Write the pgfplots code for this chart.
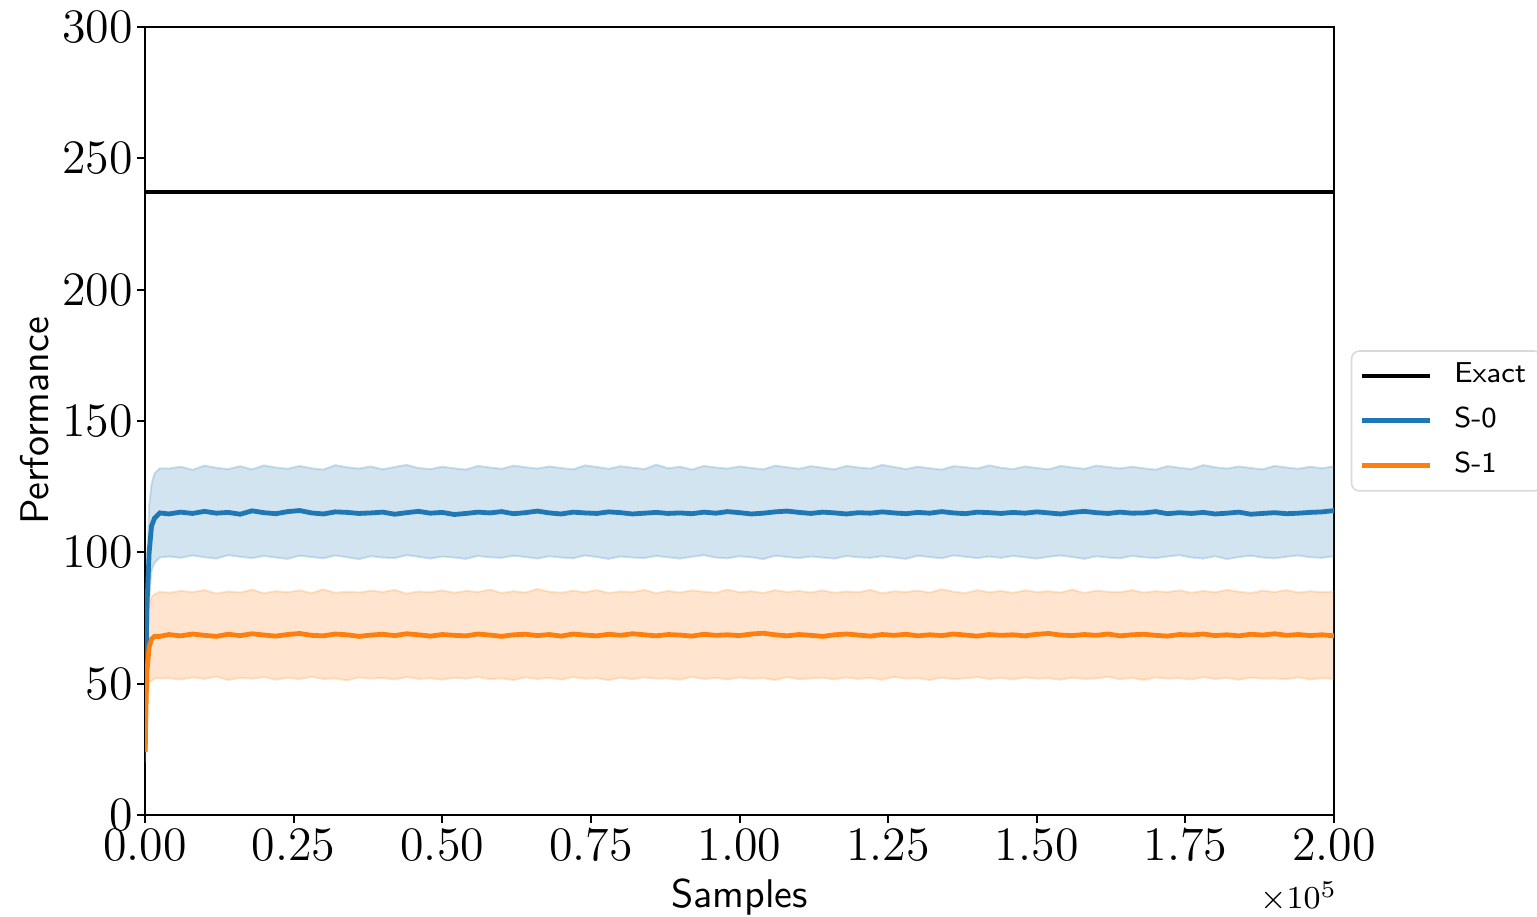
\documentclass[border=0pt]{standalone}
\usepackage{pgfplots}
\usepackage{pgfplotstable}
\usepgfplotslibrary{fillbetween}
\pgfplotsset{compat=1.18}

\definecolor{tabblue}{HTML}{1F77B4}
\definecolor{taborange}{HTML}{FF7F0E}

% x in units of 1e5 samples; m = mean, l/h = band low/high
\pgfplotstableread{
x m0 l0 h0 m1 l1 h1
0.000 24.0 20.0 28.0 24.0 20.0 28.0
0.003 78.0 64.0 92.0 54.0 45.0 64.0
0.007 100.0 83.0 118.0 64.0 51.0 79.0
0.011 110.0 93.0 126.0 67.0 51.0 83.0
0.016 113.0 96.0 130.0 68.0 52.0 84.0
0.025 115.0 98.0 132.0 68.0 52.0 85.0
0.04 114.6 98.4 131.9 68.7 52.1 84.6
0.06 115.3 97.9 132.6 68.2 51.6 85.3
0.08 114.8 98.8 131.4 68.9 52.4 84.9
0.10 115.6 98.1 133.0 68.4 51.8 85.6
0.12 114.9 97.6 132.2 68.0 52.7 84.3
0.14 115.2 98.9 131.7 68.8 51.4 85.1
0.16 114.5 98.3 132.8 68.3 52.2 84.7
0.18 115.8 97.8 131.6 69.0 51.9 85.8
0.20 115.1 98.6 133.1 68.5 52.5 84.4
0.22 114.7 98.0 132.3 68.1 51.5 85.2
0.24 115.5 97.5 131.8 68.7 52.3 84.8
0.26 115.9 98.7 132.9 69.1 51.7 85.5
0.28 115.0 98.2 132.0 68.4 52.6 84.5
0.30 114.6 97.7 131.5 68.2 51.8 85.9
0.32 115.4 98.8 133.2 68.9 52.0 84.6
0.34 115.2 98.1 132.4 68.6 51.3 85.0
0.36 114.8 97.4 131.9 68.0 52.4 84.7
0.38 115.0 98.5 132.7 68.5 51.9 85.4
0.40 115.3 98.0 131.6 68.8 52.2 84.9
0.42 114.5 97.8 132.5 68.3 51.6 85.7
0.44 115.1 98.9 133.3 69.0 52.5 84.3
0.46 115.6 98.3 132.1 68.6 51.8 85.1
0.48 114.9 97.6 131.7 68.1 52.1 84.8
0.50 115.2 98.4 132.6 68.7 51.5 85.5
0.52 114.4 98.0 132.0 68.4 52.3 84.6
0.54 114.8 97.5 131.5 68.2 51.9 85.3
0.56 115.3 98.6 132.9 68.9 52.6 84.9
0.58 115.0 98.1 132.3 68.5 51.7 85.8
0.60 115.5 97.9 131.8 68.0 52.0 84.5
0.62 114.7 98.7 133.0 68.6 51.4 85.2
0.64 115.1 98.2 132.4 68.8 52.4 84.7
0.66 115.7 97.6 131.9 68.3 51.8 86.0
0.68 115.0 98.5 132.7 68.7 52.2 85.0
0.70 114.6 98.0 132.1 68.1 51.6 84.6
0.72 115.3 97.7 131.6 68.9 52.5 85.4
0.74 115.0 98.8 133.1 68.5 51.9 84.8
0.76 114.8 98.2 132.5 68.2 52.1 85.6
0.78 115.4 97.5 131.8 68.8 51.3 84.5
0.80 115.1 98.4 132.8 68.4 52.3 85.1
0.82 114.6 98.0 132.2 69.0 51.7 84.9
0.84 114.9 97.8 131.7 68.6 52.4 85.7
0.86 115.2 98.6 133.4 68.2 51.9 84.4
0.88 114.8 98.1 132.0 68.7 52.0 85.3
0.90 115.0 97.6 132.6 68.5 51.5 84.7
0.92 114.7 98.3 131.5 68.1 52.6 85.5
0.94 115.3 98.9 132.9 68.8 51.8 85.0
0.96 114.9 98.0 132.3 68.4 52.2 84.6
0.98 115.5 97.7 131.9 68.6 51.6 85.8
1.00 115.1 98.5 132.7 68.3 52.4 84.8
1.02 114.6 98.1 132.1 68.9 51.9 85.2
1.04 114.9 97.4 131.6 69.2 52.1 84.5
1.06 115.4 98.7 133.0 68.6 51.4 85.6
1.08 115.7 98.2 132.4 68.2 52.5 84.9
1.10 115.2 97.8 131.8 68.7 51.7 85.3
1.12 114.8 98.4 132.8 68.4 52.0 84.7
1.14 115.3 98.0 132.2 68.0 52.3 85.5
1.16 115.0 97.6 131.6 68.6 51.6 84.6
1.18 114.6 98.6 132.9 68.9 52.4 85.1
1.20 115.1 98.1 132.3 68.5 51.8 84.8
1.22 114.9 97.9 131.9 68.1 52.2 85.7
1.24 115.4 98.5 133.3 68.7 51.5 84.4
1.26 115.0 98.0 132.5 68.4 52.6 85.2
1.28 114.7 97.5 131.7 68.8 51.9 84.9
1.30 115.2 98.7 132.6 68.2 52.1 85.4
1.32 114.9 98.2 132.0 68.6 51.4 84.7
1.34 115.5 97.7 131.5 68.3 52.3 85.9
1.36 115.0 98.8 132.8 68.9 51.7 85.0
1.38 114.7 98.3 132.4 68.5 52.0 84.5
1.40 115.3 97.8 131.9 68.1 52.5 85.6
1.42 115.1 98.4 133.1 68.7 51.8 84.8
1.44 114.8 97.9 132.2 68.4 52.2 85.3
1.46 115.2 98.6 131.7 68.6 51.6 84.6
1.48 114.9 98.1 132.7 68.2 52.4 85.5
1.50 115.4 97.6 132.1 68.8 51.9 84.9
1.52 115.0 98.3 131.6 69.1 52.1 85.2
1.54 114.6 98.8 132.9 68.5 51.5 84.7
1.56 115.2 98.2 132.3 68.3 52.3 85.8
1.58 115.6 97.5 131.8 68.7 51.8 84.5
1.60 115.1 98.5 133.0 68.4 52.0 85.4
1.62 114.8 98.0 132.5 68.9 52.6 85.0
1.64 115.3 97.7 131.9 68.2 51.7 84.8
1.66 114.9 98.6 132.6 68.6 52.2 85.6
1.68 115.0 98.1 132.0 68.8 51.4 84.7
1.70 115.5 97.8 131.5 68.4 52.4 85.2
1.72 114.7 98.4 132.8 68.1 51.9 84.9
1.74 115.1 98.9 132.2 68.7 52.1 85.5
1.76 114.8 98.0 131.7 68.5 51.6 84.6
1.78 115.2 97.6 133.2 68.9 52.5 85.3
1.80 114.6 98.5 132.4 68.3 51.8 84.8
1.82 114.9 97.4 131.9 68.6 52.2 85.7
1.84 115.3 98.2 132.7 68.2 51.5 85.0
1.86 114.5 98.7 132.1 68.8 52.3 84.5
1.88 114.8 98.0 131.6 68.5 51.9 85.4
1.90 115.1 97.7 132.9 69.0 52.0 84.9
1.92 114.7 98.3 132.3 68.4 51.7 85.6
1.94 114.9 98.8 131.8 68.7 52.4 84.7
1.96 115.2 98.1 132.6 68.3 51.6 85.2
1.98 115.4 97.9 132.0 68.6 52.1 84.8
2.00 115.9 98.5 132.8 68.2 51.8 85.1
}\perf

\begin{document}
\begin{tikzpicture}
\begin{axis}[
    scale only axis,
    width=297.25pt, height=197pt,
    xmin=0, xmax=2, ymin=0, ymax=300,
    xtick={0,0.25,...,2}, ytick={0,50,...,300},
    xticklabel style={yshift=2pt, /pgf/number format/.cd, fixed, fixed zerofill, precision=2},
    yticklabel style={xshift=2.5pt, /pgf/number format/fixed},
    tick label style={font=\fontsize{11.5}{13}\selectfont},
    scaled x ticks=false,
    tick align=outside, xtick pos=bottom, ytick pos=left,
    major tick length=2pt,
    tick style={black, line width=0.5pt},
    axis line style={line width=0.5pt},
    xlabel={Samples}, ylabel={Performance},
    label style={font=\sffamily\fontsize{10}{12}\selectfont},
    xlabel style={at={(rel axis cs:0.5,0)}, anchor=north, yshift=-12.5pt},
    ylabel style={at={([xshift=-20.5pt]rel axis cs:0,0.5)}, anchor=south},
    legend style={at={(1.014,0.5)}, anchor=west, draw=black!15, rounded corners=2pt,
        font=\sffamily\fontsize{7.2}{8.6}\selectfont, row sep=0.6pt,
        inner xsep=2pt, inner ysep=1pt},
    legend cell align=left,
    legend image code/.code={\draw[#1] (0pt,0pt) -- (17pt,0pt); \path (20.5pt,0pt);},
]
\addplot[black, line width=1pt] coordinates {(0,237) (2,237)};
\addlegendentry{Exact}

\addplot[name path=h0, tabblue, draw opacity=0.2, line width=0.5pt, forget plot] table[x=x, y=h0] {\perf};
\addplot[name path=l0, tabblue, draw opacity=0.2, line width=0.5pt, forget plot] table[x=x, y=l0] {\perf};
\addplot[tabblue, fill opacity=0.2, draw=none, forget plot] fill between[of=h0 and l0];

\addplot[name path=h1, taborange, draw opacity=0.2, line width=0.5pt, forget plot] table[x=x, y=h1] {\perf};
\addplot[name path=l1, taborange, draw opacity=0.2, line width=0.5pt, forget plot] table[x=x, y=l1] {\perf};
\addplot[taborange, fill opacity=0.2, draw=none, forget plot] fill between[of=h1 and l1];

\addplot[tabblue, line width=1.2pt] table[x=x, y=m0] {\perf};
\addlegendentry{S-0}
\addplot[taborange, line width=1.2pt] table[x=x, y=m1] {\perf};
\addlegendentry{S-1}
\end{axis}
\node[anchor=north east, font=\fontsize{8}{9.6}\selectfont, inner sep=0pt] at (298.25pt,-16.5pt) {$\times 10^{5}$};
\pgfresetboundingbox
\path (-36.25pt,-25.5pt) rectangle (348pt,203.75pt);
\end{tikzpicture}
\end{document}
